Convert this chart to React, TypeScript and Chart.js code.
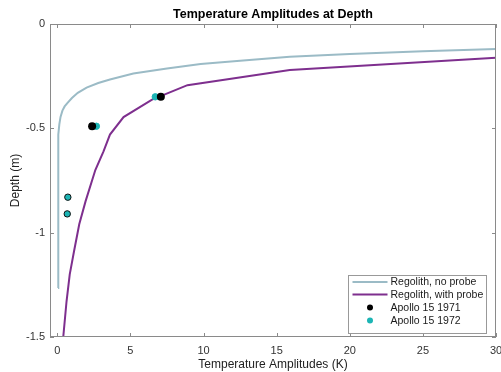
import React, { useEffect, useRef } from 'react';
import { Chart, registerables } from 'chart.js';
Chart.register(...registerables);

const chartTitle = 'Temperature Amplitudes at Depth';
const xTitle = 'Temperature Amplitudes (K)';
const yTitle = 'Depth (m)';

const noProbeAmplitude = [0.05, 0.05, 0.06, 0.09, 0.14, 0.22, 0.35, 0.5, 0.7, 1.0, 1.4, 2.0, 2.8, 3.6, 5.2, 7.5, 9.8, 12.5, 15.9, 20, 25, 30];
const noProbeDepth = [-1.265, -0.7, -0.6, -0.53, -0.48, -0.445, -0.415, -0.395, -0.378, -0.355, -0.33, -0.305, -0.283, -0.266, -0.237, -0.213, -0.192, -0.176, -0.157, -0.144, -0.131, -0.12];

const probeAmplitude = [0.38, 0.63, 0.85, 1.14, 1.5, 1.93, 2.6, 3.16, 3.6, 4.53, 6.48, 8.9, 15.9, 30];
const probeDepth = [-1.52, -1.33, -1.2, -1.09, -0.96, -0.85, -0.7, -0.61, -0.53, -0.446, -0.362, -0.293, -0.221, -0.162];

const apollo1971Amplitude = [2.38, 7.08];
const apollo1971Depth = [-0.49, -0.349];

const apollo1972Amplitude = [2.67, 6.7, 0.72, 0.68];
const apollo1972Depth = [-0.49, -0.349, -0.83, -0.91];
const apollo1972Edge = ['#1CB5B5', '#1CB5B5', '#111111', '#111111'];

const xTicks = [0, 5, 10, 15, 20, 25, 30];
const yTicks = [0, -0.5, -1, -1.5];

const seriesNames = ['Regolith, no probe', 'Regolith, with probe', 'Apollo 15 1971', 'Apollo 15 1972'];

const BLUE = '#9BBBC6';
const PURPLE = '#7E2F8E';
const BLACK = '#000000';
const CYAN = '#1CB5B5';
const AXIS = '#8A8A8A';
const FONT = '"Liberation Sans", Arial, Helvetica, sans-serif';

const zip = (xs: number[], ys: number[]) => xs.map((x, i) => ({ x, y: ys[i] }));

const framePlugin = {
  id: 'frame',
  afterDatasetsDraw(chart: any) {
    const ctx = chart.ctx;
    const a = chart.chartArea;
    const xs = chart.scales.x;
    const ys = chart.scales.y;
    ctx.save();
    ctx.strokeStyle = AXIS;
    ctx.lineWidth = 1;
    ctx.strokeRect(Math.round(a.left) + 0.5, Math.round(a.top) + 0.5, Math.round(a.right - a.left) - 1, Math.round(a.bottom - a.top) - 1);
    const tl = 4;
    ctx.beginPath();
    xTicks.forEach((v) => {
      const px = Math.round(xs.getPixelForValue(v)) + 0.5;
      ctx.moveTo(px, a.bottom);
      ctx.lineTo(px, a.bottom - tl);
      ctx.moveTo(px, a.top);
      ctx.lineTo(px, a.top + tl);
    });
    yTicks.forEach((v) => {
      const py = Math.round(ys.getPixelForValue(v)) + 0.5;
      ctx.moveTo(a.left, py);
      ctx.lineTo(a.left + tl, py);
      ctx.moveTo(a.right, py);
      ctx.lineTo(a.right - tl, py);
    });
    ctx.stroke();
    ctx.restore();
  },
  afterDraw(chart: any) {
    const ctx = chart.ctx;
    const a = chart.chartArea;
    ctx.save();
    ctx.fillStyle = '#000';
    ctx.font = `bold 12.5px ${FONT}`;
    ctx.textAlign = 'center';
    ctx.textBaseline = 'middle';
    ctx.fillText(chartTitle, (a.left + a.right) / 2, 15);

    const bw = 138;
    const bh = 58;
    const bx = Math.round(a.right - 10 - bw) + 0.5;
    const by = Math.round(a.bottom - 4 - bh) + 0.5;
    ctx.fillStyle = '#fff';
    ctx.fillRect(bx, by, bw, bh);
    ctx.strokeStyle = '#999';
    ctx.lineWidth = 1;
    ctx.strokeRect(bx, by, bw, bh);
    const rowY = [6.5, 19, 32, 45];
    const lx0 = bx + 4;
    const lx1 = bx + 39;
    ctx.font = `10.5px ${FONT}`;
    ctx.textAlign = 'left';
    ctx.textBaseline = 'middle';
    seriesNames.forEach((name, i) => {
      const y = by + rowY[i];
      if (i < 2) {
        ctx.strokeStyle = i === 0 ? BLUE : PURPLE;
        ctx.lineWidth = 2;
        ctx.beginPath();
        ctx.moveTo(lx0, y);
        ctx.lineTo(lx1, y);
        ctx.stroke();
      } else {
        ctx.fillStyle = i === 2 ? BLACK : CYAN;
        ctx.beginPath();
        ctx.arc((lx0 + lx1) / 2, y, 3, 0, Math.PI * 2);
        ctx.fill();
      }
      ctx.fillStyle = '#1a1a1a';
      ctx.fillText(name, bx + 42, y + 0.5);
    });
    ctx.restore();
  },
};

export default function App() {
  const ref = useRef<HTMLCanvasElement | null>(null);
  useEffect(() => {
    if (!ref.current) return;
    const chart = new Chart(ref.current, {
      type: 'scatter',
      data: {
        datasets: [
          {
            label: seriesNames[2],
            data: zip(apollo1971Amplitude, apollo1971Depth),
            backgroundColor: BLACK,
            borderColor: BLACK,
            pointRadius: 4,
            pointBorderWidth: 0,
            order: 0,
          },
          {
            label: seriesNames[3],
            data: zip(apollo1972Amplitude, apollo1972Depth),
            backgroundColor: CYAN,
            pointBorderColor: apollo1972Edge,
            pointBorderWidth: 1,
            pointRadius: 3.2,
            order: 1,
          },
          {
            label: seriesNames[1],
            data: zip(probeAmplitude, probeDepth),
            showLine: true,
            borderColor: PURPLE,
            borderWidth: 2,
            pointRadius: 0,
            order: 2,
          },
          {
            label: seriesNames[0],
            data: zip(noProbeAmplitude, noProbeDepth),
            showLine: true,
            borderColor: BLUE,
            borderWidth: 2,
            pointRadius: 0,
            order: 3,
          },
        ] as any,
      },
      options: {
        animation: false,
        responsive: false,
        events: [],
        layout: { padding: { top: 24, right: 4, bottom: 0, left: 0 } },
        plugins: {
          legend: { display: false },
          title: { display: false },
          tooltip: { enabled: false },
        },
        scales: {
          x: {
            type: 'linear',
            min: -0.5,
            max: 30,
            afterBuildTicks: (s: any) => {
              s.ticks = xTicks.map((v) => ({ value: v }));
            },
            afterFit: (s: any) => {
              s.height = 35;
              s.paddingLeft = 0;
              s.paddingRight = 0;
            },
            grid: { display: false, drawTicks: false },
            border: { display: false },
            ticks: {
              color: '#333',
              font: { family: FONT, size: 11 },
              padding: 7,
              maxRotation: 0,
              callback: (v: any) => String(v),
            },
            title: {
              display: true,
              text: xTitle,
              color: '#222',
              font: { family: FONT, size: 12 },
              padding: { top: 0, bottom: 0 },
            },
          },
          y: {
            type: 'linear',
            min: -1.5,
            max: 0,
            afterBuildTicks: (s: any) => {
              s.ticks = yTicks.map((v) => ({ value: v }));
            },
            afterFit: (s: any) => {
              s.width = 50;
              s.paddingTop = 0;
              s.paddingBottom = 0;
            },
            grid: { display: false, drawTicks: false },
            border: { display: false },
            ticks: {
              color: '#333',
              font: { family: FONT, size: 11 },
              padding: 5,
              callback: (v: any) => String(v),
            },
            title: {
              display: true,
              text: yTitle,
              color: '#222',
              font: { family: FONT, size: 12 },
              padding: { top: 8, bottom: 0 },
            },
          },
        },
      } as any,
      plugins: [framePlugin],
    });
    return () => chart.destroy();
  }, []);
  return (
    <div style={{ position: 'fixed', left: 0, top: 0, width: 501, height: 372, background: '#fff' }}>
      <canvas ref={ref} width={501} height={372} style={{ width: 501, height: 372, display: 'block' }} />
    </div>
  );
}
